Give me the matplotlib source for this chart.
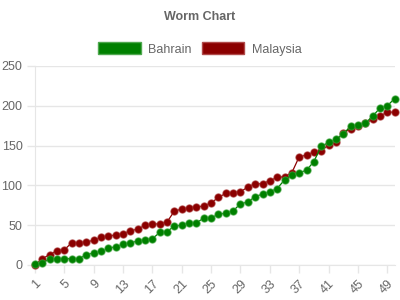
import matplotlib
matplotlib.use("Agg")
import matplotlib.pyplot as plt
from matplotlib.patches import Patch

# cumulative runs per over
overs = list(range(1, 51))
bahrain = [1, 2, 8, 8, 8, 8, 8, 13, 15, 17,
           21, 23, 26, 28, 30, 32, 33, 41, 42, 49,
           50, 53, 53, 59, 59, 64, 65, 68, 77, 79,
           86, 89, 92, 96, 107, 113, 116, 119, 130, 149,
           154, 158, 165, 174, 176, 178, 187, 197, 200, 209]
malaysia = [0, 8, 13, 18, 19, 28, 28, 29, 31, 35,
            36, 38, 39, 43, 45, 50, 51, 52, 54, 68,
            70, 72, 73, 74, 78, 85, 90, 91, 92, 98,
            102, 102, 106, 110, 111, 116, 136, 138, 142, 143,
            151, 155, 166, 171, 174, 178, 183, 187, 192, 192]
tick_overs = list(range(1, 50, 4))
y_ticks = [0, 50, 100, 150, 200, 250]

plt.rcParams['font.family'] = ['Liberation Sans', 'DejaVu Sans']

green = '#008000'
darkred = '#8b0000'
grid_c = '#e6e6e6'
text_c = '#666666'

fig = plt.figure(figsize=(4, 3), dpi=100)
ax = fig.add_axes([0.0875, 0.1167, 0.899, 0.6633])

ax.plot(overs, malaysia, color=darkred, lw=0.9, marker='o', ms=5.3,
        mfc=darkred, mec=(0.65, 0.2, 0.2, 0.6), mew=0.8, zorder=3, clip_on=False)
ax.plot(overs, bahrain, color=green, lw=0.9, marker='o', ms=5.3,
        mfc=green, mec=(0.25, 0.65, 0.25, 0.6), mew=0.8, zorder=4, clip_on=False)

ax.set_xlim(1, 50)
ax.set_ylim(0, 250)
ax.set_yticks(y_ticks)
ax.set_xticks(tick_overs)
ax.set_xticklabels([str(t) for t in tick_overs], rotation=45, ha='right',
                   rotation_mode='anchor')
ax.grid(True, axis='y', color=grid_c, lw=1)
ax.tick_params(axis='both', colors=grid_c, labelcolor=text_c, labelsize=9,
               length=6, width=1)
ax.tick_params(axis='y', pad=3)
ax.tick_params(axis='x', pad=3)
for s in ['top', 'right']:
    ax.spines[s].set_visible(False)
for s in ['left', 'bottom']:
    ax.spines[s].set_color(grid_c)

fig.text(0.5, 1 - 17 / 300, 'Worm Chart', ha='center', va='center',
         fontweight='bold', color=text_c, fontsize=9)

handles = [Patch(fc=green, ec='#4fa84f', lw=1, label='Bahrain'),
           Patch(fc=darkred, ec='#b04a4a', lw=1, label='Malaysia')]
fig.legend(handles=handles, loc='center', bbox_to_anchor=(0.5, 1 - 49 / 300),
           ncol=2, frameon=False, handlelength=3.4, handleheight=1.1,
           handletextpad=0.6, columnspacing=0.8, fontsize=9, labelcolor=text_c)

fig.savefig('out.png', dpi=100)
